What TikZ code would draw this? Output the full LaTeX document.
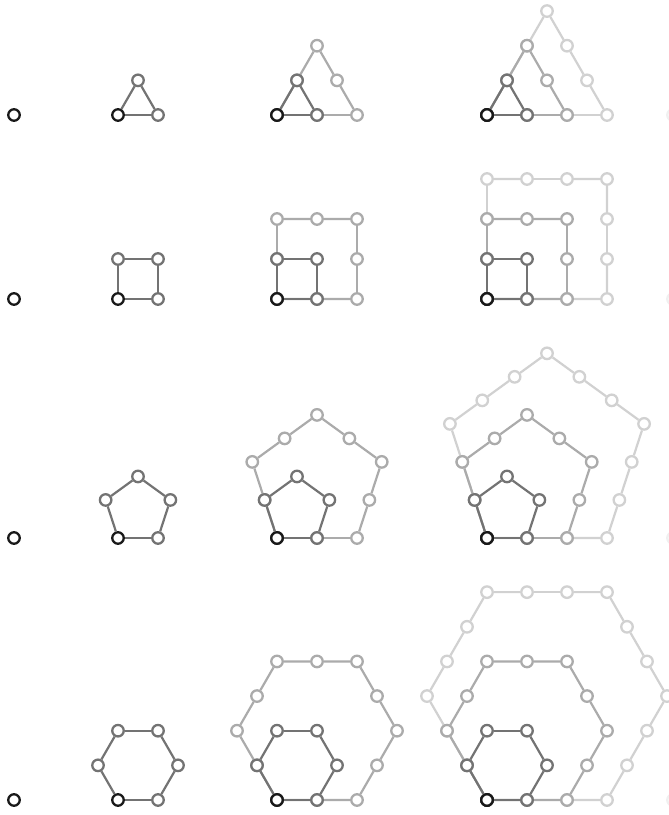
\documentclass[tikz,border=0pt]{standalone}
\usetikzlibrary{calc}
\colorlet{lay1}{black!90}
\colorlet{lay2}{black!55}
\colorlet{lay3}{black!33}
\colorlet{lay4}{black!18}
\tikzset{
  dot/.style={circle,draw,fill=white,line width=2.3pt,minimum size=11.5pt,inner sep=0pt},
  edge/.style={line width=2.2pt},
}

\begin{document}
\begin{tikzpicture}[x=1pt,y=1pt]
\useasboundingbox (0,0) rectangle (669,815);
\foreach \k/\by in {3/700,4/516,5/277,6/15}{
  \node[dot,draw=lay1] (o-\k) at (14,\by) {};
  \node[dot,draw=black!6] (ghost-\k) at (673,\by) {};
  \foreach \n/\bx in {2/118,3/277,4/487}{
    \foreach \j in {\n,...,2}{
      \pgfmathsetmacro{\L}{40*(\j-1)}
      \pgfmathsetmacro{\R}{\L/(2*sin(180/\k))}
      \pgfmathsetmacro{\H}{\L/(2*tan(180/\k))}
      \coordinate (c) at (\bx+\L/2,\by+\H);
      \foreach \q in {0,...,\k}{
        \pgfmathsetmacro{\ang}{-90-180/\k+\q*360/\k}
        \coordinate (v\q) at ($(c)+(\ang:\R)$);
      }
      \pgfmathtruncatemacro{\N}{\k*(\j-1)}
      \pgfmathtruncatemacro{\Nm}{\N-1}
      \foreach \m in {0,...,\Nm}{
        \pgfmathtruncatemacro{\q}{floor(\m/(\j-1))}
        \pgfmathtruncatemacro{\qq}{\q+1}
        \pgfmathsetmacro{\f}{(\m-\q*(\j-1))/(\j-1)}
        \ifnum\m=0 \def\col{lay1}\else \def\col{lay\j}\fi
        \node[dot,draw=\col] (p-\k-\n-\j-\m) at ($(v\q)!\f!(v\qq)$) {};
      }
      \foreach \m in {0,...,\Nm}{
        \pgfmathtruncatemacro{\mm}{mod(\m+1,\N)}
        \draw[edge,draw=lay\j] (p-\k-\n-\j-\m) -- (p-\k-\n-\j-\mm);
      }
    }
  }
}
\end{tikzpicture}
\end{document}
